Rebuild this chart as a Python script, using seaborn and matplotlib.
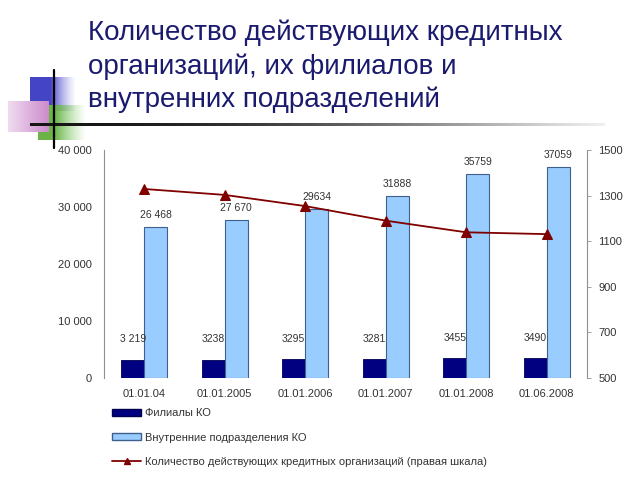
"""
Количество действующих кредитных организаций, их филиалов
и внутренних подразделений: столбцы + линия по правой шкале
"""

import numpy as np
import pandas as pd
import seaborn as sns
import matplotlib.pyplot as plt
from matplotlib.patches import Patch
from matplotlib.lines import Line2D

# данные
dates = ['01.01.04', '01.01.2005', '01.01.2006', '01.01.2007', '01.01.2008', '01.06.2008']
branches = [3219, 3238, 3295, 3281, 3455, 3490]
branch_labels = ['3 219', '3238', '3295', '3281', '3455', '3490']
divisions = [26468, 27670, 29634, 31888, 35759, 37059]
division_labels = ['26 468', '27 670', '29634', '31888', '35759', '37059']
credit_orgs = [1329, 1303, 1254, 1190, 1139, 1131]

left_ticks = [0, 10000, 20000, 30000, 40000]
left_tick_labels = ['0', '10 000', '20 000', '30 000', '40 000']
right_ticks = [500, 700, 900, 1100, 1300, 1500]

series_names = ['Филиалы КО',
                'Внутренние подразделения КО',
                'Количество действующих кредитных организаций (правая шкала)']
title = 'Количество действующих кредитных\nорганизаций, их филиалов и\nвнутренних подразделений'

NAVY = '#000080'
LIGHT = '#99ccff'
LINE = '#800000'
TICK_COLOR = '#333333'

sns.set_theme(style='white')
plt.rcParams['font.family'] = ['Liberation Sans', 'DejaVu Sans']

fig = plt.figure(figsize=(6.4, 4.8), dpi=100)

# декоративные квадраты и линии слева от заголовка
deco = fig.add_axes([0, 0, 1, 1], zorder=-1)


def gradient_box(x0, x1, y0, y1, rgb_left, rgb_right, a_left, a_right, solid=0.0):
    n = 64
    t = np.linspace(0, 1, n)
    f = np.clip((t - solid) / (1 - solid), 0, 1)
    img = np.zeros((2, n, 4))
    for i in range(3):
        img[:, :, i] = rgb_left[i] + (rgb_right[i] - rgb_left[i]) * f
    img[:, :, 3] = a_left + (a_right - a_left) * f
    deco.imshow(img, extent=(x0, x1, y1, y0), aspect='auto', interpolation='bilinear')


gradient_box(30, 76, 77, 111, (0.27, 0.27, 0.78), (0.6, 0.6, 0.92), 1.0, 0.0, solid=0.45)
gradient_box(38, 86, 105, 140, (0.42, 0.70, 0.28), (0.6, 0.85, 0.5), 1.0, 0.0, solid=0.35)
gradient_box(8, 49, 101, 132, (0.94, 0.86, 0.94), (0.80, 0.55, 0.80), 1.0, 1.0)

# горизонтальная линия с затуханием вправо
n = 256
t = np.linspace(0, 1, n)
line_img = np.zeros((2, n, 4))
for i in range(3):
    line_img[:, :, i] = 0.08 + 0.8 * t ** 2
line_img[:, :, 3] = 1 - 0.5 * t ** 3
deco.imshow(line_img, extent=(30, 605, 126.5, 123.5), aspect='auto', interpolation='bilinear')
deco.plot([54, 54], [70, 148], color='black', lw=1.6)

deco.set_xlim(0, 640)
deco.set_ylim(480, 0)
deco.axis('off')

fig.text(88 / 640, 1 - 20 / 480, title, ha='left', va='top',
         fontsize=20, color='#1a1a6e', linespacing=1.32)

# основной график
ax = fig.add_axes([104 / 640, 1 - 378 / 480, 483 / 640, 228 / 480])

df = pd.DataFrame({
    'date': dates * 2,
    'series': [series_names[0]] * len(dates) + [series_names[1]] * len(dates),
    'value': branches + divisions,
})

sns.barplot(data=df, x='date', y='value', hue='series', order=dates,
            hue_order=series_names[:2], palette=[NAVY, LIGHT], saturation=1,
            width=0.57, ax=ax, legend=False)

for bar in ax.containers[0]:
    bar.set_edgecolor('#000050')
    bar.set_linewidth(0.6)
for bar in ax.containers[1]:
    bar.set_edgecolor('#3f5f8f')
    bar.set_linewidth(0.8)

ax.bar_label(ax.containers[0], labels=branch_labels, padding=11,
             fontsize=7.5, color=TICK_COLOR)
ax.bar_label(ax.containers[1], labels=division_labels, padding=5,
             fontsize=7.5, color=TICK_COLOR)

ax.set_ylim(0, 40000)
ax.set_xlim(-0.5, len(dates) - 0.5)
ax.set_yticks(left_ticks)
ax.set_yticklabels(left_tick_labels)
ax.set_xlabel('')
ax.set_ylabel('')
ax.tick_params(axis='y', length=0, pad=9, labelsize=8, labelcolor=TICK_COLOR)
ax.tick_params(axis='x', length=0, pad=8, labelsize=8, labelcolor=TICK_COLOR)
for side in ['top', 'right', 'bottom']:
    ax.spines[side].set_visible(False)
ax.spines['left'].set_color('#909090')
ax.spines['left'].set_linewidth(0.8)

# правая шкала
ax2 = ax.twinx()
sns.lineplot(x=np.arange(len(dates)), y=credit_orgs, ax=ax2, color=LINE,
             marker='^', markersize=7, markeredgecolor=LINE, linewidth=1.3)
ax2.set_ylim(500, 1500)
ax2.set_yticks(right_ticks)
ax2.set_yticklabels([str(v) for v in right_ticks])
ax2.tick_params(axis='y', length=3, width=0.6, color='#909090', pad=5,
                labelsize=8, labelcolor=TICK_COLOR)
for side in ['top', 'left', 'bottom']:
    ax2.spines[side].set_visible(False)
ax2.spines['right'].set_color('#909090')
ax2.spines['right'].set_linewidth(0.8)
ax2.set_xlim(-0.5, len(dates) - 0.5)

# легенда
handles = [
    Patch(facecolor=NAVY, edgecolor='#000050'),
    Patch(facecolor=LIGHT, edgecolor='#3f5f8f'),
    Line2D([], [], color=LINE, marker='^', markersize=5, lw=1.3),
]
fig.legend(handles=handles, labels=series_names, loc='upper left',
           bbox_to_anchor=(108 / 640, 1 - 404 / 480), frameon=False,
           fontsize=8, handlelength=2.6, handleheight=0.55,
           labelspacing=1.28, handletextpad=0.3, borderaxespad=0,
           labelcolor=TICK_COLOR)

fig.savefig('out.png', dpi=100)
